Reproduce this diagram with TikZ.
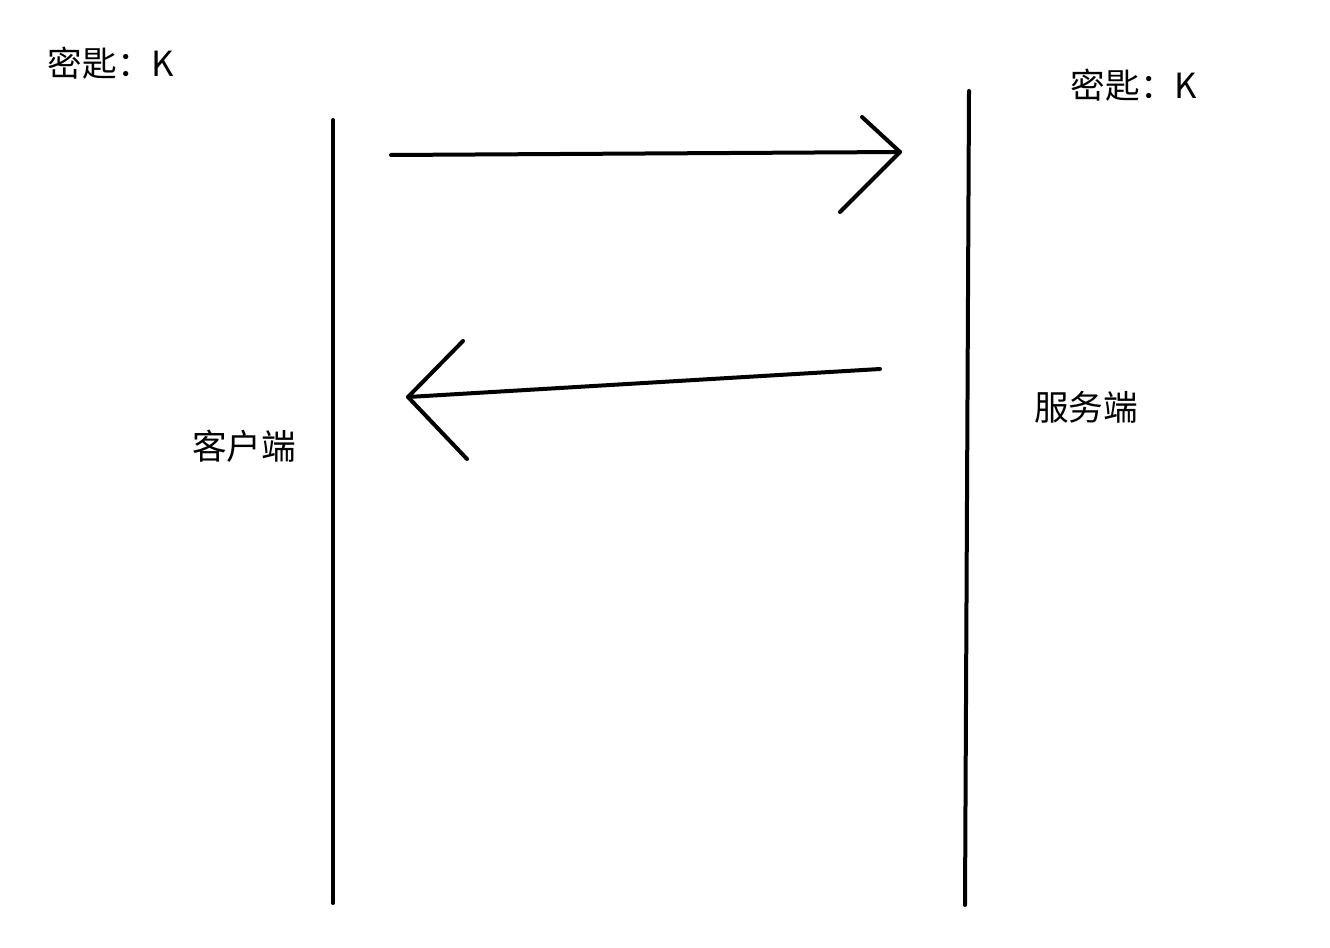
\documentclass[tikz,border=0pt]{standalone}
\usepackage{fontspec}
\setmainfont{Noto Sans CJK SC}
\begin{document}
\begin{tikzpicture}[x=0.75pt,y=-0.75pt,
  stroke/.style={line width=3pt,line cap=round,line join=round},
  lbl/.style={font=\fontsize{26pt}{30pt}\selectfont,inner sep=0pt}]
\useasboundingbox[fill=white] (0,0) rectangle (1330,948);
% lifelines
\coordinate (cTop) at (333,120);
\coordinate (cBot) at (333,903);
\coordinate (sTop) at (969,91);
\coordinate (sBot) at (965,905);
\draw[stroke] (cTop) -- (cBot);
\draw[stroke] (sTop) -- (sBot);
% request arrow
\coordinate (a1s) at (391,155);
\coordinate (a1e) at (900,152);
\coordinate (a1u) at (862,117);
\coordinate (a1d) at (840,212);
\draw[stroke] (a1s) -- (a1e);
\draw[stroke] (a1u) -- (a1e) -- (a1d);
% response arrow
\coordinate (a2s) at (880,369);
\coordinate (a2e) at (408,397);
\coordinate (a2u) at (463,341);
\coordinate (a2d) at (467,459);
\draw[stroke] (a2s) -- (a2e);
\draw[stroke] (a2u) -- (a2e) -- (a2d);
% labels
\node[lbl] (keyL) at (111,63) {密匙：K};
\node[lbl] (keyR) at (1134,85) {密匙：K};
\node[lbl] (client) at (244,446) {客户端};
\node[lbl] (server) at (1086,407) {服务端};
\end{tikzpicture}
\end{document}
